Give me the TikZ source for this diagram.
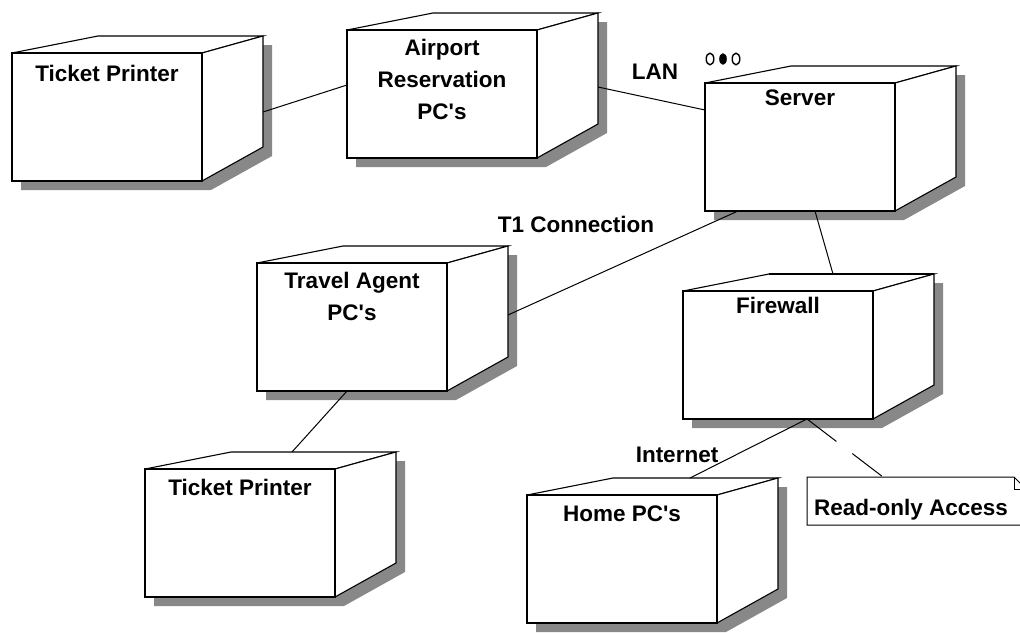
\documentclass[tikz,border=0pt]{standalone}
\usepackage{fontspec}
\setmainfont{Liberation Sans}[Ligatures=TeXOff]
\usetikzlibrary{calc}
\definecolor{shadowgray}{RGB}{136,136,136}
\newcommand\labelfont{\fontsize{22.5}{32}\selectfont\bfseries}

% A deployment node: front face centred at #3, label #4 whose last line sits #1 below the top edge,
% with top and side faces and a drop shadow
\newcommand\depnode[4][25]{%
  \node[front] (#2) at (#3) {};
  \fill[shadowgray] ($(#2.north west)+(9,9)$) -- ($(#2.north west)+(95,-8)$)
    -- ($(#2.north east)+(70,-8)$) -- ($(#2.south east)+(70,-25)$)
    -- ($(#2.south east)+(9,9)$) -- ($(#2.south west)+(9,9)$) -- cycle;
  \draw[face] (#2.north west) -- ($(#2.north west)+(86,-17)$)
    -- ($(#2.north east)+(61,-17)$) -- (#2.north east) -- cycle;
  \draw[face] (#2.north east) -- ($(#2.north east)+(61,-17)$)
    -- ($(#2.south east)+(61,-34)$) -- (#2.south east) -- cycle;
  \draw[face] (#2.north west) rectangle (#2.south east);
  \node[lbl, anchor=base] (#2-label) at ($(#2.north)+(0,#1)$) {#4};
}

\begin{document}
\begin{tikzpicture}[x=1pt, y=-1pt,
  front/.style={rectangle, minimum width=190pt, minimum height=128pt,
    inner sep=0pt, outer sep=0pt},
  face/.style={draw=black, fill=white, line width=1.1pt, line join=miter},
  lbl/.style={font=\labelfont, align=center, inner sep=0pt},
  link/.style={draw=black, line width=1pt},
  notebox/.style={rectangle, minimum width=219pt, minimum height=48pt,
    inner sep=0pt, outer sep=0pt}]
\useasboundingbox (0,0) rectangle (1020,632);
\clip (0,0) rectangle (1020,632);

% nodes
\depnode[28]{tp1}{107,117}{Ticket Printer}
\depnode[89]{air}{442,94}{Airport\\Reservation\\PC's}
\depnode[22]{srv}{800,147}{Server}
\depnode[57]{trv}{352,327}{Travel Agent\\PC's}
\depnode[22]{fw}{778,355}{Firewall}
\draw[line width=2.2pt] ($(fw.north west)+(86,-17)$) -- ($(fw.north east)+(61,-17)$);
\depnode[26]{tp2}{240,533}{Ticket Printer}
\depnode[26]{home}{622,559}{Home PC's}

% note with folded corner
\node[notebox] (note) at (916.5,501) {};
\draw[face, line width=1pt] (note.south west) -- (note.north west)
  -- ($(note.north east)+(-12,0)$) -- ($(note.north east)+(0,12)$)
  -- (note.south east) -- cycle;
\draw[line width=1pt] ($(note.north east)+(-12,0)$) -- ($(note.north east)+(-12,12)$)
  -- ($(note.north east)+(0,12)$);
\node[lbl, anchor=base] (notetext) at (911,515) {Read-only Access};

% connections
\draw[link] ($(tp1.east)+(61,-5)$) -- ($(air.west)+(0,-9)$);
\draw[link] ($(air.east)+(61,-7)$) -- ($(srv.west)+(0,-37)$);
\draw[link] ($(srv.south west)+(33,0)$) -- ($(trv.east)+(61,-12)$);
\draw[link] ($(srv.south)+(15,0)$) -- ($(fw.north)+(55,-17)$);
\draw[link] ($(trv.south)+(-5,0)$) -- ($(tp2.north)+(52,-17)$);
\draw[link] ($(fw.south)+(29,0)$) -- ($(home.north)+(68,-17)$);
\draw[link, dash pattern=on 37pt off 20pt] ($(fw.south)+(29,0)$) -- ($(note.north west)+(76,0)$);

% connection labels
\node[lbl, anchor=base] (lan) at (655,79) {LAN};
\node[lbl, anchor=base] (t1) at (576,232) {T1 Connection};
\node[lbl, anchor=base] (inet) at (677,462) {Internet};

% multiplicity mark beside the server
\draw[line width=1.4pt] (710,59) ellipse [x radius=3.8, y radius=5.8];
\fill (723,59) ellipse [x radius=3.8, y radius=5.8];
\draw[line width=1.4pt] (736,59) ellipse [x radius=3.8, y radius=5.8];
\end{tikzpicture}
\end{document}
